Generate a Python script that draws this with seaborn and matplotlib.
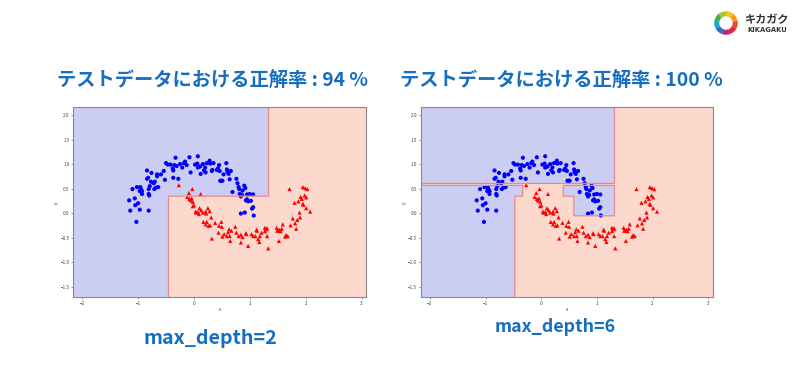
import numpy as np
import pandas as pd
import matplotlib
matplotlib.use("Agg")
import matplotlib.pyplot as plt
from matplotlib.patches import Wedge
import seaborn as sns

# ---------------- data ----------------
blue_x = [-1.16, -1.14, -1.10, -1.06, -1.05, -1.03, -1.02, -1.00, -0.97, -0.97,
          -0.96, -0.95, -0.93, -0.93, -0.84, -0.84, -0.82, -0.81, -0.81, -0.79,
          -0.81, -0.80, -0.77, -0.76, -0.72, -0.70, -0.71, -0.68, -0.66, -0.64,
          -0.59, -0.66, -0.54, -0.52, -0.50, -0.47, -0.42, -0.38, -0.37, -0.37,
          -0.35, -0.33, -0.31, -0.28, -0.25, -0.21, -0.18, -0.13, -0.16, -0.08,
          -0.06, 0.02, 0.06, 0.07, 0.07, 0.11, 0.12, 0.16, 0.18, 0.20,
          0.21, 0.23, 0.28, 0.29, 0.32, 0.33, 0.35, 0.41, 0.43, 0.45,
          0.46, 0.47, 0.49, 0.51, 0.53, 0.58, 0.59, 0.60, 0.62, 0.64,
          0.66, 0.69, 0.76, 0.78, 0.80, 0.81, 0.82, 0.84, 0.86, 0.87,
          0.90, 0.92, 0.93, 0.95, 0.95, 0.97, 1.00, 1.02, 1.04, 1.06,
          1.06, 0.84, 0.91, 1.07]
blue_y = [0.26, 0.05, 0.49, 0.30, 0.16, -0.18, 0.53, 0.20, 0.07, 0.45,
          0.53, 0.49, 0.45, 0.39, 0.87, 0.70, 0.72, 0.49, 0.39, 0.55,
          0.05, 0.36, 0.64, 0.82, 0.61, 0.64, 0.49, 0.52, 0.75, 0.53,
          0.79, 0.79, 0.86, 0.68, 1.02, 0.99, 0.99, 0.91, 0.87, 0.72,
          0.98, 1.13, 0.96, 0.70, 1.00, 0.93, 1.02, 0.98, 1.05, 1.14,
          0.83, 0.99, 1.01, 1.16, 0.93, 0.95, 0.80, 1.00, 0.87, 0.93,
          0.83, 1.02, 1.07, 1.01, 0.86, 0.88, 1.02, 0.88, 0.91, 0.98,
          0.86, 0.66, 0.66, 0.66, 0.79, 1.02, 0.89, 0.84, 0.80, 0.69,
          0.86, 0.43, 0.70, 0.61, 0.53, 0.49, 0.39, 0.34, 0.37, 0.46,
          0.56, 0.51, 0.26, 0.38, 0.28, 0.24, 0.39, 0.25, 0.09, 0.12,
          0.38, -0.01, 0.01, -0.05]

red_x = [-0.27, -0.03, 0.12, -0.09, -0.12, -0.08, -0.06, -0.04, -0.02, -0.02,
         0.00, 0.03, 0.04, 0.07, 0.09, 0.10, 0.13, 0.16, 0.21, 0.22,
         0.25, 0.28, 0.31, 0.17, 0.21, 0.23, 0.26, 0.29, 0.32, 0.38,
         0.44, 0.45, 0.49, 0.50, 0.51, 0.54, 0.59, 0.61, 0.63, 0.64,
         0.65, 0.67, 0.74, 0.76, 0.80, 0.84, 0.84, 0.87, 0.93, 0.94,
         0.97, 1.03, 1.06, 1.10, 1.13, 1.15, 1.17, 1.18, 1.21, 1.27,
         1.30, 1.31, 1.31, 1.33, 1.48, 1.49, 1.52, 1.52, 1.53, 1.55,
         1.57, 1.59, 1.63, 1.65, 1.68, 1.71, 1.73, 1.77, 1.80, 1.81,
         1.83, 1.85, 1.87, 1.89, 1.90, 1.91, 1.93, 1.95, 1.95, 1.96,
         1.98, 1.99, 2.01, 2.01, 2.03, 2.08, 1.12, 1.27]
red_y = [0.57, 0.49, 0.39, 0.41, 0.33, 0.29, 0.26, 0.30, 0.23, 0.14,
         0.16, 0.03, 0.01, 0.02, -0.02, 0.10, 0.06, 0.01, 0.03, -0.01,
         0.10, 0.04, -0.09, -0.18, -0.23, -0.18, -0.26, -0.25, -0.52, -0.20,
         -0.40, -0.26, -0.18, -0.28, -0.48, -0.43, -0.47, -0.39, -0.33, -0.47,
         -0.57, -0.36, -0.28, -0.40, -0.47, -0.60, -0.44, -0.49, -0.41, -0.43,
         -0.67, -0.43, -0.47, -0.47, -0.36, -0.53, -0.59, -0.47, -0.40, -0.30,
         -0.33, -0.31, -0.47, -0.72, -0.30, -0.36, -0.57, -0.36, -0.34, -0.37,
         -0.32, -0.23, -0.48, -0.45, -0.47, 0.49, -0.25, -0.11, 0.21, -0.21,
         -0.32, -0.14, 0.24, 0.01, -0.09, 0.33, 0.29, 0.19, 0.53, 0.17,
         0.36, 0.51, 0.32, 0.10, 0.49, 0.03, -0.34, -0.37]

# decision-tree leaves predicted as class 0 (blue): (x_lo, x_hi, y_lo, y_hi)
regions_depth2 = [(-9, -0.46, -9, 9), (-0.46, 1.33, 0.35, 9)]
regions_depth6 = [(-9, 1.31, 0.61, 9), (-9, -0.48, -9, 0.57),
                  (-0.48, -0.34, 0.35, 0.57), (0.39, 1.31, 0.35, 0.57),
                  (0.58, 1.31, -0.05, 0.57)]

titles = ["テストデータにおける正解率 : 94 %", "テストデータにおける正解率 : 100 %"]
captions = ["max_depth=2", "max_depth=6"]

# ---------------- styling ----------------
sns.set_theme(style="white")
plt.rcParams['font.family'] = ['Noto Sans CJK JP', 'DejaVu Sans']

BLUE_FILL = "#cccdf3"
RED_FILL = "#fdd8cc"
EDGE = "#e08c8c"
TITLE_C = "#176ebf"

df = pd.DataFrame({
    "x": blue_x + red_x,
    "y": blue_y + red_y,
    "label": ["0"] * len(blue_x) + ["1"] * len(red_x),
})

x_min, x_max = df.x.min() - 1, df.x.max() + 1
y_min, y_max = df.y.min() - 1, df.y.max() + 1
xx, yy = np.meshgrid(np.arange(x_min, x_max, 0.01), np.arange(y_min, y_max, 0.01))


def predict(regions):
    z = np.ones_like(xx)
    for (x0, x1, y0, y1) in regions:
        z[(xx >= x0) & (xx < x1) & (yy >= y0) & (yy < y1)] = 0
    return z


fig = plt.figure(figsize=(8, 3.69), dpi=100)
fig.patch.set_facecolor("white")

axes_pos = [[0.0916, 0.1943, 0.3659, 0.5149], [0.5263, 0.1943, 0.3646, 0.5149]]
for pos, regions in zip(axes_pos, [regions_depth2, regions_depth6]):
    ax = fig.add_axes(pos)
    z = predict(regions)
    ax.contourf(xx, yy, z, levels=[-0.5, 0.5, 1.5], colors=[BLUE_FILL, RED_FILL])
    ax.contour(xx, yy, z, levels=[0.5], colors=[EDGE], linewidths=0.9)
    sns.scatterplot(data=df, x="x", y="y", hue="label", style="label",
                    markers={"0": "o", "1": "^"},
                    palette={"0": "blue", "1": "red"},
                    s=9, linewidth=0, legend=False, ax=ax)
    ax.set_xlim(x_min, x_max)
    ax.set_ylim(y_min, y_max)
    ax.set_xticks([-2, -1, 0, 1, 2, 3])
    ax.set_yticks([-1.5, -1.0, -0.5, 0.0, 0.5, 1.0, 1.5, 2.0])
    ax.set_yticklabels(["−1.5", "−1.0", "−0.5", "0.0", "0.5", "1.0", "1.5", "2.0"])
    ax.set_xticklabels(["−2", "−1", "0", "1", "2", "3"])
    ax.tick_params(labelsize=3.4, length=1.5, width=0.4, pad=1.2,
                   colors="#444444", bottom=True, left=True)
    ax.set_xlabel("x", fontsize=3.4, labelpad=1, color="#444444")
    ax.set_ylabel("y", fontsize=3.4, labelpad=1, color="#444444")
    for sp in ax.spines.values():
        sp.set_color("#8a8a8a")
        sp.set_linewidth(0.8)

# titles & captions
fig.text(212.5 / 800, 1 - 81.7 / 369, titles[0], ha="center", va="center",
         fontsize=13.9, fontweight="bold", color=TITLE_C)
fig.text(561 / 800, 1 - 81.7 / 369, titles[1], ha="center", va="center",
         fontsize=13.9, fontweight="bold", color=TITLE_C)
fig.text(210 / 800, 1 - 338 / 369, captions[0], ha="center", va="center",
         fontsize=14.2, fontweight="bold", color=TITLE_C)
fig.text(555 / 800, 1 - 327.5 / 369, captions[1], ha="center", va="center",
         fontsize=12.8, fontweight="bold", color=TITLE_C)

# logo
lax = fig.add_axes([714 / 800, 1 - 35 / 369, 24 / 800, 24 / 369])
lax.set_xlim(-1, 1)
lax.set_ylim(-1, 1)
lax.set_aspect("equal")
lax.axis("off")
ring_colors = ["#f6c21c", "#f39a1e", "#ea4b2a", "#e2263f", "#c8207a",
               "#2d6fc2", "#1ba6d8", "#3cb44a", "#9ccc2e"]
n = len(ring_colors)
for i, c in enumerate(ring_colors):
    a0 = 90 - i * 360 / n
    lax.add_patch(Wedge((0, 0), 0.98, a0 - 360 / n - 1, a0, width=0.42,
                        facecolor=c, edgecolor="none"))
fig.text(767.5 / 800, 1 - 19.5 / 369, "キカガク", ha="center", va="center",
         fontsize=8, fontweight="bold", color="#333333")
fig.text(767.5 / 800, 1 - 30.5 / 369, "KIKAGAKU", ha="center", va="center",
         fontsize=4.9, fontweight="bold", color="#333333",
         family=["DejaVu Sans"])

fig.savefig("out.png", dpi=100, facecolor="white")
